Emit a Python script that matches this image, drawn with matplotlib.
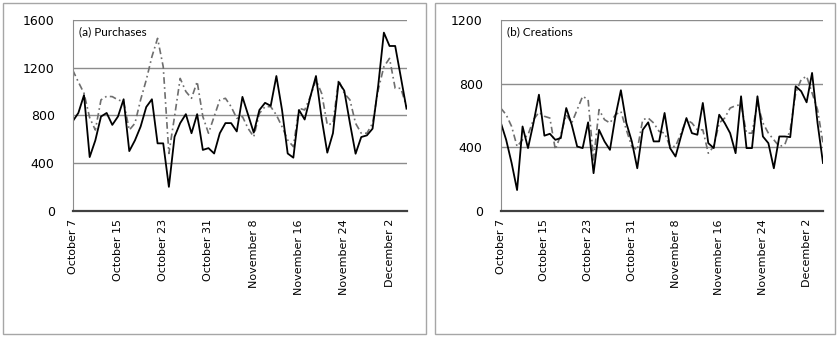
import matplotlib.pyplot as plt
from matplotlib.patches import Rectangle
import numpy as np

# daily values, October 7 .. December 5
tick_labels = ["October 7", "October 15", "October 23", "October 31",
               "November 8", "November 16", "November 24", "December 2"]

purch_actual = [750, 820, 970, 450, 590, 790, 820, 720, 790, 935,
                500, 590, 705, 870, 935, 565, 565, 200, 620, 735,
                810, 650, 810, 510, 525, 480, 650, 735, 735, 665,
                955, 805, 655, 845, 905, 880, 1130, 845, 480, 445,
                845, 765, 955, 1130, 775, 487, 650, 1080, 1007, 735,
                478, 618, 632, 688, 1050, 1494, 1382, 1382, 1120, 856]
purch_model = [1180, 1080, 985, 780, 677, 930, 960, 957, 930, 915,
               677, 733, 930, 1097, 1292, 1446, 1208, 480, 790, 1110,
               1000, 943, 1083, 790, 650, 790, 930, 943, 873, 775,
               790, 690, 620, 817, 873, 873, 803, 705, 593, 537,
               860, 845, 957, 1097, 985, 720, 733, 1097, 985, 930,
               733, 650, 650, 733, 1013, 1208, 1278, 1027, 1027, 873]

creat_actual = [556, 446, 300, 130, 530, 394, 552, 730, 472, 484,
                446, 457, 646, 541, 404, 394, 556, 236, 509, 436,
                383, 594, 758, 552, 436, 267, 509, 556, 436, 436,
                615, 394, 341, 467, 583, 488, 478, 678, 425, 394,
                604, 552, 488, 362, 720, 394, 394, 720, 467, 425,
                267, 467, 467, 463, 783, 752, 682, 867, 552, 300]
creat_model = [646, 604, 530, 404, 446, 478, 573, 619, 594, 583,
               385, 478, 604, 552, 636, 720, 699, 320, 636, 573,
               552, 604, 625, 509, 404, 383, 573, 583, 552, 499,
               488, 404, 404, 488, 573, 552, 509, 509, 362, 404,
               552, 583, 646, 661, 667, 488, 488, 678, 552, 488,
               446, 404, 415, 509, 741, 825, 846, 741, 636, 425]

W, H = 838, 337
fig = plt.figure(figsize=(W / 100, H / 100), dpi=100)

# chart-area borders (pixels: x0, y0_top, x1, y1_bottom)
for x0, y0, x1, y1 in [(3, 3, 426, 334), (435, 3, 835, 334)]:
    fig.patches.append(Rectangle((x0 / W, 1 - y1 / H), (x1 - x0) / W, (y1 - y0) / H,
                                 transform=fig.transFigure, fill=False,
                                 edgecolor="#a6a6a6", lw=1.0))


def panel(rect, actual, model, ymax, title):
    ax = fig.add_axes(rect)
    x = np.arange(len(actual))
    ax.plot(x, model, color="#6e6e6e", lw=1.2, dashes=(4, 2, 1, 2))
    ax.plot(x, actual, color="black", lw=1.3)
    ax.set_xlim(0, len(actual) - 1)
    ax.set_ylim(0, ymax)
    ax.set_yticks(np.arange(0, ymax + 1, 400))
    ax.grid(axis="y", color="#8c8c8c", lw=1.0)
    ax.set_axisbelow(True)
    ax.set_xticks(np.arange(0, len(actual), 8))
    ax.set_xticklabels(tick_labels, rotation=90, va="top", ha="center")
    ax.tick_params(axis="x", length=0, pad=6, labelsize=8)
    ax.tick_params(axis="y", length=0, pad=13, labelsize=9)
    for s in ["top", "right"]:
        ax.spines[s].set_visible(False)
    ax.spines["left"].set_color("#8c8c8c")
    ax.spines["bottom"].set_color("#404040")
    ax.spines["bottom"].set_linewidth(1.6)
    ax.text(0.018, 0.965, title, transform=ax.transAxes, fontsize=8.5,
            family="Lato", va="top", ha="left")
    return ax


panel([72.7 / W, 1 - 210.7 / H, (406.5 - 72.7) / W, 190.7 / H],
      purch_actual, purch_model, 1600, "(a) Purchases")
panel([500.7 / W, 1 - 210.7 / H, (823 - 500.7) / W, 190.7 / H],
      creat_actual, creat_model, 1200, "(b) Creations")

fig.savefig("out.png", dpi=100)
